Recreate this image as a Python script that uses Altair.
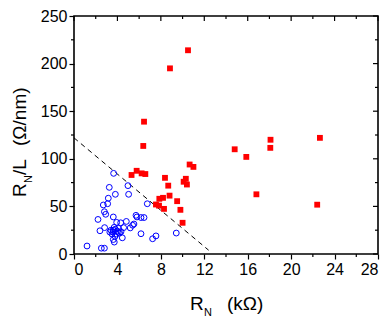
import altair as alt
import pandas as pd

# Red squares (R_N in kOhm, R_N/L in Ohm/nm)
red_x = [10.5, 8.84, 6.45, 6.38, 14.8, 15.87, 18.1, 18.08, 22.65, 16.8, 22.4,
         10.65, 11.0, 5.3, 5.77, 6.23, 6.57, 8.38, 8.68, 10.3, 10.1, 10.4,
         8.8, 7.86, 8.2, 9.5, 7.55, 7.83, 8.29, 9.8, 10.0]
red_y = [214, 195, 139, 113.5, 110, 102, 120, 111.5, 122, 62.7, 51.8,
         94, 91.5, 83, 87.4, 84.7, 84, 80, 71.8, 79, 75.9, 73,
         61.3, 58, 59, 55.5, 52, 50.8, 47.4, 46.4, 32.8]

# Blue open circles
blue_x = [3.65, 4.97, 3.25, 3.81, 5.03, 3.16, 2.7, 3.1, 6.75, 2.8, 2.92, 3.62,
          2.21, 5.71, 5.8, 6.17, 6.45, 3.93, 4.82, 5.52, 5.4, 2.82, 2.39, 4.57,
          5.18, 4.33, 6.17, 3.78, 4.45, 3.62, 3.71, 7.55, 7.24, 9.42, 1.2, 2.52,
          2.8, 4.08, 4.3, 3.4, 3.6, 3.8, 4.0, 3.5, 3.9, 4.1, 3.3, 3.7, 4.2, 3.6]
blue_y = [84.7, 71.8, 70, 62.7, 62.7, 58.6, 51.5, 52.8, 52.8, 44.4, 41.7, 38.9,
          36.3, 40.6, 38.9, 38.3, 38.3, 33.2, 34.2, 31.5, 30.2, 27.7, 24.4, 27.7,
          27.4, 23.4, 21.3, 18.6, 17, 15.2, 12.5, 19, 16, 22, 8.4, 6.1,
          6.1, 22.7, 32.8, 25, 23, 26, 24, 21, 21, 27, 23, 28, 22, 25]

# Dashed boundary line
line_x = [0, 12.4]
line_y = [122, 4]

x_major = [0, 4, 8, 12, 16, 20, 24, 28]
x_minor = [2, 6, 10, 14, 18, 22, 26]
y_major = [0, 50, 100, 150, 200, 250]
y_minor = [25, 75, 125, 175, 225]

W, H = 304, 238
FONT = "Liberation Sans"

red_df = pd.DataFrame({"x": red_x, "y": red_y})
blue_df = pd.DataFrame({"x": blue_x, "y": blue_y})
line_df = pd.DataFrame({"x": line_x, "y": line_y})
xmaj_df = pd.DataFrame({"v": x_major})
xmin_df = pd.DataFrame({"v": x_minor})
ymaj_df = pd.DataFrame({"v": y_major})
ymin_df = pd.DataFrame({"v": y_minor})

xs = alt.Scale(domain=[0, 28], nice=False)
ys = alt.Scale(domain=[0, 250], nice=False)

xaxis = alt.Axis(values=x_major, tickSize=5, tickColor="black", tickWidth=1.2,
                 labelFont=FONT, labelFontSize=16, labelColor="black",
                 labelPadding=2, grid=False, domain=False, title=None)
yaxis = alt.Axis(values=y_major, tickSize=5, tickColor="black", tickWidth=1.2,
                 labelFont=FONT, labelFontSize=16, labelColor="black",
                 labelPadding=2, grid=False, domain=False, title=None)

blue = alt.Chart(blue_df).mark_point(shape="circle", filled=False, color="#0000FF",
                                     size=34, strokeWidth=1, opacity=1).encode(
    x=alt.X("x:Q", scale=xs, axis=xaxis),
    y=alt.Y("y:Q", scale=ys, axis=yaxis),
)
red = alt.Chart(red_df).mark_square(color="#FF0000", size=34, opacity=1).encode(
    x=alt.X("x:Q", scale=xs), y=alt.Y("y:Q", scale=ys))
line = alt.Chart(line_df).mark_line(color="black", strokeWidth=1, strokeDash=[5, 4]).encode(
    x=alt.X("x:Q", scale=xs), y=alt.Y("y:Q", scale=ys))

def vrule(df, y0, y1):
    return alt.Chart(df).mark_rule(color="black", strokeWidth=1.2).encode(
        x=alt.X("v:Q", scale=xs), y=alt.value(y0), y2=alt.value(y1))

def hrule(df, x0, x1):
    return alt.Chart(df).mark_rule(color="black", strokeWidth=1.2).encode(
        y=alt.Y("v:Q", scale=ys), x=alt.value(x0), x2=alt.value(x1))

ticks = [
    vrule(xmin_df, H, H + 3),
    vrule(xmaj_df, 0, 5),
    vrule(xmin_df, 0, 3),
    hrule(ymin_df, 0, -3),
    hrule(ymaj_df, W, W - 5),
    hrule(ymin_df, W, W - 3),
]

def txt(s, x, y, size, angle=0):
    return alt.Chart(pd.DataFrame({"t": [s]})).mark_text(
        text=s, font=FONT, fontSize=size, color="black", align="left",
        baseline="alphabetic", angle=angle).encode(x=alt.value(x), y=alt.value(y))

titles = [
    txt("R", 116, 294, 19),
    txt("N", 130, 300, 11),
    txt("(kΩ)", 153, 294, 19),
    txt("R", -48, 181, 19, 270),
    txt("N", -42, 167, 11, 270),
    txt("/L", -48, 159, 19, 270),
    txt("(Ω/nm)", -48, 130, 19, 270),
]

chart = alt.layer(line, blue, red, *ticks, *titles).properties(
    width=W, height=H,
    autosize=alt.AutoSizeParams(type="none"),
    padding={"left": 66, "top": 8, "right": 2, "bottom": 63},
).configure_view(stroke="black", strokeWidth=1.6)

chart.save("out.html", embed_options={"renderer": "svg", "actions": False})
